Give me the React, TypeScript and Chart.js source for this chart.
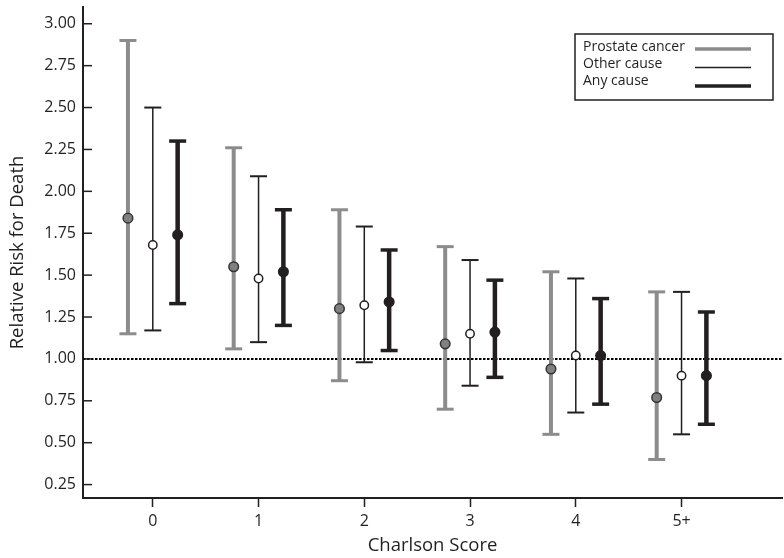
import { useEffect, useRef } from 'react';
import { Chart, registerables } from 'chart.js';

Chart.register(...registerables);

// ---- data ----
const categories = ['0', '1', '2', '3', '4', '5+'];
const seriesNames = ['Prostate cancer', 'Other cause', 'Any cause'];

const prostateRR = [1.84, 1.55, 1.30, 1.09, 0.94, 0.77];
const prostateLow = [1.15, 1.06, 0.87, 0.70, 0.55, 0.40];
const prostateHigh = [2.90, 2.26, 1.89, 1.67, 1.52, 1.40];

const otherRR = [1.68, 1.48, 1.32, 1.15, 1.02, 0.90];
const otherLow = [1.17, 1.10, 0.98, 0.84, 0.68, 0.55];
const otherHigh = [2.50, 2.09, 1.79, 1.59, 1.48, 1.40];

const anyRR = [1.74, 1.52, 1.34, 1.16, 1.02, 0.90];
const anyLow = [1.33, 1.20, 1.05, 0.89, 0.73, 0.61];
const anyHigh = [2.30, 1.89, 1.65, 1.47, 1.36, 1.28];

const yTicks = [0.25, 0.5, 0.75, 1.0, 1.25, 1.5, 1.75, 2.0, 2.25, 2.5, 2.75, 3.0];
const referenceRR = 1.0;

// ---- styles ----
const INK = '#231f20';
const FONT = '"Open Sans", sans-serif';
const X_MIN = -0.66;
const X_MAX = 5.95;
const Y_MIN = 0.17;
const Y_MAX = 3.1;

const seriesStyles = [
  { line: '#8c8c8c', width: 4, cap: 3, fill: '#808080', border: '#333333', radius: 4.8, offset: -0.235, legendWidth: 3.5 },
  { line: INK, width: 1.5, cap: 2, fill: '#ffffff', border: INK, radius: 4.2, offset: 0, legendWidth: 1.5 },
  { line: INK, width: 4.5, cap: 3.5, fill: INK, border: INK, radius: 4.8, offset: 0.235, legendWidth: 3.5 },
];

const seriesData = [
  { rr: prostateRR, lo: prostateLow, hi: prostateHigh },
  { rr: otherRR, lo: otherLow, hi: otherHigh },
  { rr: anyRR, lo: anyLow, hi: anyHigh },
];

function buildDatasets() {
  const ds: any[] = [];
  ds.push({
    type: 'line',
    data: [{ x: X_MIN, y: referenceRR }, { x: X_MAX, y: referenceRR }],
    borderColor: '#000000',
    borderWidth: 2,
    borderDash: [2.5, 1.5],
    pointRadius: 0,
    order: 10,
  });
  seriesData.forEach((s, k) => {
    const st = seriesStyles[k];
    const whisker: any[] = [];
    const caps: any[] = [];
    const pts: any[] = [];
    s.rr.forEach((v, i) => {
      const x = i + st.offset;
      whisker.push({ x, y: s.lo[i] }, { x, y: s.hi[i] }, { x, y: null });
      caps.push({ x, y: s.lo[i] }, { x, y: s.hi[i] });
      pts.push({ x, y: v });
    });
    ds.push({
      type: 'line',
      label: seriesNames[k] + ' CI',
      data: whisker,
      borderColor: st.line,
      borderWidth: st.width,
      borderCapStyle: 'butt',
      pointRadius: 0,
      spanGaps: false,
      order: 5,
    });
    ds.push({
      type: 'scatter',
      label: seriesNames[k] + ' caps',
      data: caps,
      pointStyle: 'line',
      pointRadius: 8.5,
      pointHoverRadius: 8.5,
      borderColor: st.line,
      pointBorderColor: st.line,
      pointBorderWidth: st.cap,
      borderWidth: st.cap,
      order: 4,
    });
    ds.push({
      type: 'scatter',
      label: seriesNames[k],
      data: pts,
      pointStyle: 'circle',
      pointRadius: st.radius,
      pointBackgroundColor: st.fill,
      pointBorderColor: st.border,
      pointBorderWidth: 1.5,
      order: 1,
    });
  });
  return ds;
}

const innerYTicks = {
  id: 'innerYTicks',
  afterDraw(chart: any) {
    const y = chart.scales.y;
    const ctx = chart.ctx;
    ctx.save();
    ctx.strokeStyle = INK;
    ctx.lineWidth = 1.5;
    y.ticks.forEach((_t: any, i: number) => {
      const py = y.getPixelForTick(i);
      ctx.beginPath();
      ctx.moveTo(y.right, py);
      ctx.lineTo(y.right + 9, py);
      ctx.stroke();
    });
    ctx.restore();
  },
};

const boxLegend = {
  id: 'boxLegend',
  afterDraw(chart: any) {
    const ctx = chart.ctx;
    const area = chart.chartArea;
    const left = area.right - 207;
    const top = area.top + 27;
    const w = 198;
    const h = 66;
    ctx.save();
    ctx.fillStyle = '#ffffff';
    ctx.fillRect(left, top, w, h);
    ctx.strokeStyle = INK;
    ctx.lineWidth = 1.5;
    ctx.strokeRect(left, top, w, h);
    ctx.font = '14px ' + FONT;
    ctx.fillStyle = INK;
    ctx.textBaseline = 'middle';
    ctx.textAlign = 'left';
    seriesNames.forEach((name, k) => {
      const ty = top + 13 + k * 17;
      ctx.fillText(name, left + 8, ty);
      const st = seriesStyles[k];
      ctx.strokeStyle = st.line;
      ctx.lineWidth = st.legendWidth;
      const ly = top + 15 + k * 18.5;
      ctx.beginPath();
      ctx.moveTo(left + 120, ly);
      ctx.lineTo(left + 176, ly);
      ctx.stroke();
    });
    ctx.restore();
  },
};

export default function App() {
  const ref = useRef<HTMLCanvasElement | null>(null);
  useEffect(() => {
    if (!ref.current) return;
    const chart = new Chart(ref.current, {
      type: 'scatter',
      data: { datasets: buildDatasets() },
      options: {
        animation: false,
        responsive: false,
        events: [],
        layout: { autoPadding: false, padding: { top: 7, right: 2, left: 0, bottom: 0 } },
        plugins: { legend: { display: false }, tooltip: { enabled: false } },
        scales: {
          x: {
            type: 'linear',
            min: X_MIN,
            max: X_MAX,
            offset: false,
            afterBuildTicks: (scale: any) => {
              scale.ticks = categories.map((_c, i) => ({ value: i }));
            },
            afterFit: (scale: any) => {
              scale.height = 60;
              scale.paddingLeft = 0;
              scale.paddingRight = 0;
            },
            ticks: {
              autoSkip: false,
              maxRotation: 0,
              padding: 5,
              color: INK,
              font: { family: FONT, size: 16 },
              callback: (v: any) => categories[v] ?? '',
            },
            grid: {
              drawOnChartArea: false,
              drawTicks: true,
              tickLength: 9,
              tickColor: INK,
              tickWidth: 1.5,
            },
            border: { display: true, color: INK, width: 2 },
            title: {
              display: true,
              text: 'Charlson Score',
              color: INK,
              font: { family: FONT, size: 18.5 },
              padding: { top: 0, bottom: 1 },
            },
          },
          y: {
            type: 'linear',
            min: Y_MIN,
            max: Y_MAX,
            afterBuildTicks: (scale: any) => {
              scale.ticks = yTicks.map((v) => ({ value: v }));
            },
            afterFit: (scale: any) => {
              scale.width = 83;
              scale.paddingTop = 0;
              scale.paddingBottom = 0;
            },
            ticks: {
              padding: 7,
              color: INK,
              font: { family: FONT, size: 16 },
              callback: (v: any) => Number(v).toFixed(2),
            },
            grid: { drawOnChartArea: false, drawTicks: false },
            border: { display: true, color: INK, width: 2 },
            title: {
              display: true,
              text: 'Relative Risk for Death',
              color: INK,
              font: { family: FONT, size: 18.5 },
              padding: { top: 7, bottom: 0 },
            },
          },
        },
      },
      plugins: [innerYTicks, boxLegend],
    } as any);
    return () => chart.destroy();
  }, []);
  return (
    <div style={{ position: 'fixed', left: 0, top: 0, width: 784, height: 558, background: '#ffffff' }}>
      <canvas ref={ref} width={784} height={558} style={{ display: 'block' }} />
    </div>
  );
}
